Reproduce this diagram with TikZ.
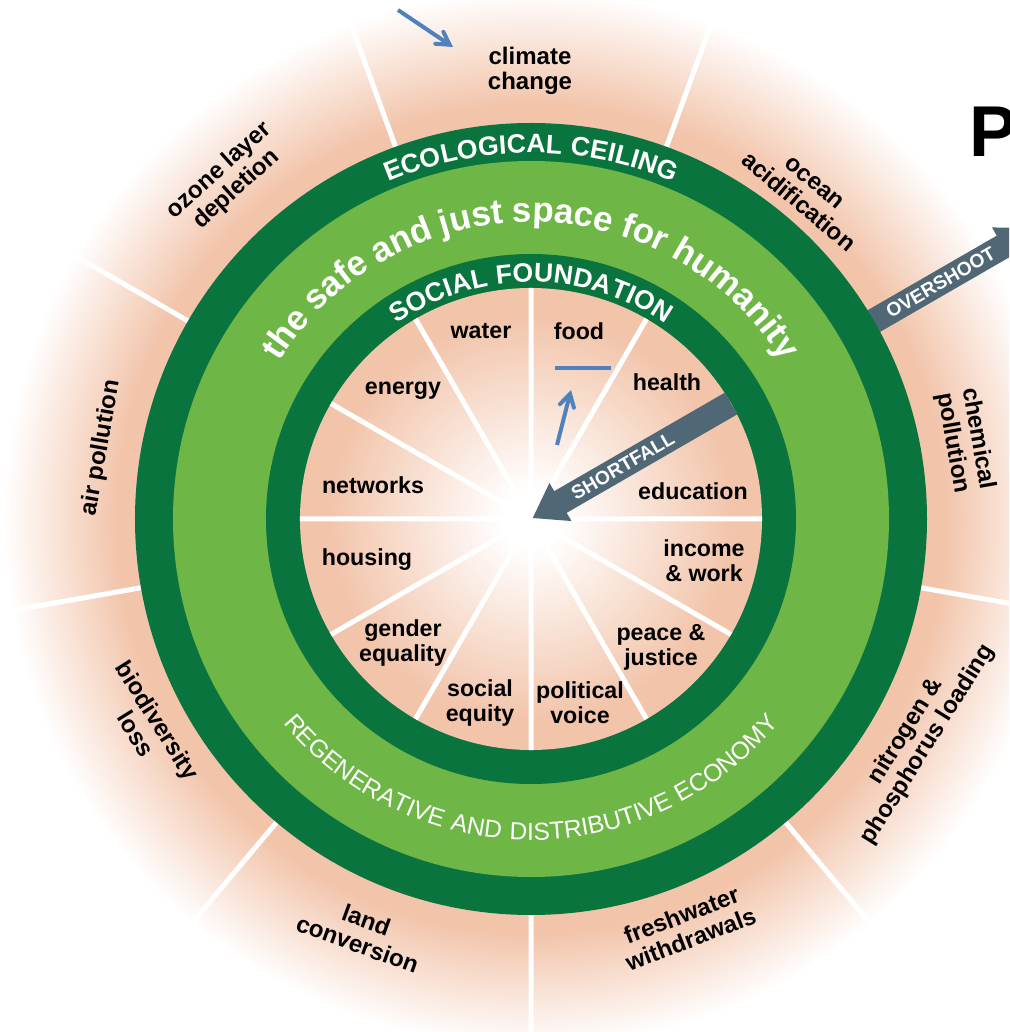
\documentclass[tikz,border=0pt]{standalone}
\usepackage{fontspec}
\setmainfont{Liberation Sans}
\usetikzlibrary{arrows, decorations.text}
\definecolor{ringdark}{RGB}{10,116,62}
\definecolor{ringlight}{RGB}{110,182,70}
\definecolor{bgpeach}{RGB}{242,196,170}
\definecolor{arrowslate}{RGB}{80,104,118}
\definecolor{noteblue}{RGB}{79,129,189}
\newfontfamily\bandfont[LetterSpace=3]{Liberation Sans}
\newfontfamily\lightband[LetterSpace=6]{Liberation Sans}
\newfontfamily\bigband[LetterSpace=-3]{Liberation Sans}
\pgfdeclareradialshading{outerglow}{\pgfpointorigin}{color(0bp)=(bgpeach); color(18.8bp)=(bgpeach); color(24bp)=(white); color(50bp)=(white)}
\pgfdeclareradialshading{innerglow}{\pgfpointorigin}{color(0bp)=(white); color(3bp)=(white); color(22bp)=(bgpeach); color(50bp)=(bgpeach)}

\begin{document}
\begin{tikzpicture}[x=0.5pt, y=0.5pt, >=angle 60]
    \tikzstyle{inlbl} = [font=\fontsize{11.6}{12.6}\selectfont\bfseries, align=center, inner sep=0]
    \tikzstyle{outlbl} = [font=\fontsize{12}{12.8}\selectfont\bfseries, align=center, inner sep=0]
    \tikzstyle{sep} = [white, line width=2.5pt]
    \tikzstyle{note} = [noteblue, line width=2pt]
    \tikzstyle{arrowlbl} = [white, font=\fontsize{9.6}{12}\selectfont\bfseries, inner sep=0]
    \useasboundingbox (-531,-513) rectangle (478,519);
    \clip (-531,-513) rectangle (478,519);
    \coordinate (ctr) at (0,0);
    % planetary boundaries
    \shade[shading=outerglow] (ctr) circle (550);
    \draw[sep] (30:390) -- (30:560) (70:390) -- (70:560) (110:390) -- (110:560)
        (150:390) -- (150:560) (190:390) -- (190:560) (230:390) -- (230:560)
        (270:390) -- (270:560) (310:390) -- (310:560) (350:390) -- (350:560);
    \fill[arrowslate, rotate=30] (388,12.5) -- (545,12.5) -- (545,22) -- (582,0) -- (545,-22) -- (545,-12.5) -- (388,-12.5) -- cycle;
    % the doughnut
    \fill[ringdark] (ctr) circle (396);
    \fill[ringlight] (ctr) circle (358);
    \fill[ringdark] (ctr) circle (265);
    \shade[shading=innerglow] (ctr) circle (231);
    \draw[sep] (ctr) -- (0:231) (ctr) -- (30:231) (ctr) -- (60:231) (ctr) -- (90:231)
        (ctr) -- (120:231) (ctr) -- (150:231) (ctr) -- (180:231) (ctr) -- (210:231)
        (ctr) -- (240:231) (ctr) -- (270:231) (ctr) -- (300:231) (ctr) -- (330:231);
    \fill[arrowslate, rotate=30] (231,12.5) -- (34,12.5) -- (34,22) -- (2,0) -- (34,-22) -- (34,-12.5) -- (231,-12.5) -- cycle;
    \node[arrowlbl, rotate=30] at (30:106) (shortlbl) {SHORTFALL};
    \node[arrowlbl, rotate=30] at (30:473) (overlbl) {OVERSHOOT};
    % ring texts
    \path[decorate, decoration={text along path, text align=center,
        text={|\bandfont\bfseries\fontsize{13.3}{14}\selectfont\color{white}|ECOLOGICAL CEILING}}]
        (150:366) arc[start angle=150, end angle=30, radius=366];
    \path[decorate, decoration={text along path, text align=center,
        text={|\bigband\bfseries\fontsize{17.5}{19}\selectfont\color{white}|the safe and just space for humanity}}]
        (160:297) arc[start angle=160, end angle=20, radius=297];
    \path[decorate, decoration={text along path, text align=center,
        text={|\bandfont\bfseries\fontsize{13.3}{14}\selectfont\color{white}|SOCIAL FOUNDATION}}]
        (150:237) arc[start angle=150, end angle=30, radius=237];
    \path[decorate, decoration={text along path, text align=center,
        text={|\lightband\fontsize{12.3}{13}\selectfont\color{white}|REGENERATIVE AND DISTRIBUTIVE ECONOMY}}]
        (200:321) arc[start angle=200, end angle=340, radius=321];
    % social foundation
    \node[inlbl] at (-50,188) (water) {water};
    \node[inlbl] at (48,188) (food) {food};
    \node[inlbl] at (136,137) (health) {health};
    \node[inlbl] at (162,28) (educ) {education};
    \node[inlbl] at (173,-42) (income) {income\\\& work};
    \node[inlbl] at (130,-128) (peace) {peace \&\\justice};
    \node[inlbl] at (49,-184) (polvoice) {political\\voice};
    \node[inlbl] at (-51,-184) (socequ) {social\\equity};
    \node[inlbl] at (-128,-124) (gender) {gender\\equality};
    \node[inlbl] at (-164,-41) (housing) {housing};
    \node[inlbl] at (-158,34) (networks) {networks};
    \node[inlbl] at (-128,128) (energy) {energy};
    % ecological ceiling
    \node[outlbl] at (-1,448) (climchg) {climate\\change};
    \node[outlbl, rotate=-40] at (275,326) (oceanacid) {ocean\\acidification};
    \node[outlbl, rotate=-80] at (434,78) (chempoll) {chemical\\pollution};
    \node[outlbl, rotate=58] at (386,-219) (nitro) {nitrogen \&\\phosphorus loading};
    \node[outlbl, rotate=21] at (155,-408) (freshw) {freshwater\\withdrawals};
    \node[outlbl, rotate=-20] at (-169,-413) (landconv) {land\\conversion};
    \node[outlbl, rotate=-58] at (-384,-208) (biodiv) {biodiversity\\loss};
    \node[outlbl, rotate=80] at (-430,71) (airpoll) {air pollution};
    \node[outlbl, rotate=42] at (-303,339) (ozone) {ozone layer\\depletion};
    \node[font=\fontsize{36}{36}\selectfont\bfseries, anchor=base west, inner sep=0] at (438,362) (ptitle) {P};
    % annotations
    \coordinate (noteA) at (-133,509);
    \coordinate (noteB) at (-78,472);
    \coordinate (noteC) at (26,74);
    \coordinate (noteD) at (40,129);
    \coordinate (noteE) at (24,151);
    \coordinate (noteF) at (80,151);
    \draw[note, ->] (noteA) -- (noteB);
    \draw[note, ->] (noteC) -- (noteD);
    \draw[note] (noteE) -- (noteF);
\end{tikzpicture}
\end{document}
